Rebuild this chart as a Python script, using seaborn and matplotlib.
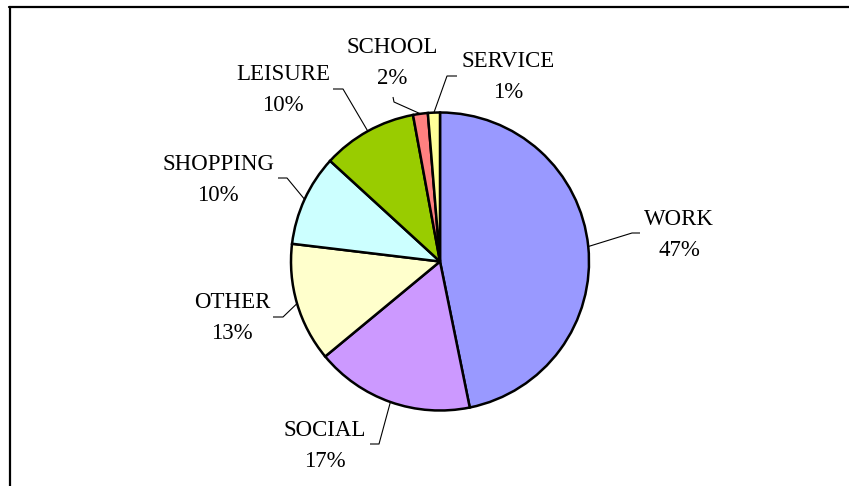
import numpy as np
import matplotlib
matplotlib.use("Agg")
import matplotlib.pyplot as plt
import seaborn as sns
from matplotlib.lines import Line2D

sns.set_theme(style="white")
plt.rcParams['font.family'] = ['Liberation Serif', 'DejaVu Serif']

categories = ["WORK", "SOCIAL", "OTHER", "SHOPPING", "LEISURE", "SCHOOL", "SERVICE"]
shares = [46.8, 17.2, 12.9, 9.9, 10.3, 1.6, 1.3]
colors = ["#9999FF", "#CC99FF", "#FFFFCC", "#CCFFFF", "#99CC00", "#FF8080", "#FFFF99"]

W, H = 849, 486
fig = plt.figure(figsize=(W / 100, H / 100), dpi=100)
ax = fig.add_axes([0, 0, 1, 1])
ax.set_xlim(0, W)
ax.set_ylim(0, H)
ax.set_aspect("equal")
ax.axis("off")

cx, cy, r = 440, H - 261.5, 149
wedges, _ = ax.pie(shares, colors=colors, startangle=90, counterclock=False,
                   center=(cx, cy), radius=r, frame=True,
                   wedgeprops=dict(edgecolor="black", linewidth=1.8))
ax.set_xlim(0, W)
ax.set_ylim(0, H)
ax.axis("off")

# label layout (pixel coords, y from top): text center, stub start, stub end
layout = {
    "WORK":     ((679, 235), (640, 233), (632, 233)),
    "SOCIAL":   ((325, 446), (370, 444), (379, 444)),
    "OTHER":    ((232, 318), (273, 317), (283, 317)),
    "SHOPPING": ((218, 180), (278, 178), (287, 178)),
    "LEISURE":  ((283, 90),  (333, 89),  (343, 89)),
    "SCHOOL":   ((392, 63),  (393, 97),  (394, 102)),
    "SERVICE":  ((508, 77),  (457, 76),  (447, 76)),
}

for w, cat, v in zip(wedges, categories, shares):
    mid = np.deg2rad((w.theta1 + w.theta2) / 2)
    ax_, ay_ = cx + r * np.cos(mid), cy + r * np.sin(mid)
    (tx, ty), (s1x, s1y), (s2x, s2y) = layout[cat]
    ax.plot([s1x, s2x, ax_], [H - s1y, H - s2y, ay_], color="black", lw=0.8,
            solid_capstyle="butt", zorder=3)
    ax.text(tx, H - ty, f"{cat}\n{round(v)}%", ha="center", va="center",
            fontsize=16.5, linespacing=1.58, color="black")

# outer frame (top and left visible)
fig.add_artist(Line2D([9 / W, 1], [1 - 7.5 / H, 1 - 7.5 / H], color="black", lw=1.6,
                      transform=fig.transFigure))
fig.add_artist(Line2D([10 / W, 10 / W], [1 - 7.5 / H, 0], color="black", lw=1.6,
                      transform=fig.transFigure))

fig.savefig("out.png", dpi=100, facecolor="white")
